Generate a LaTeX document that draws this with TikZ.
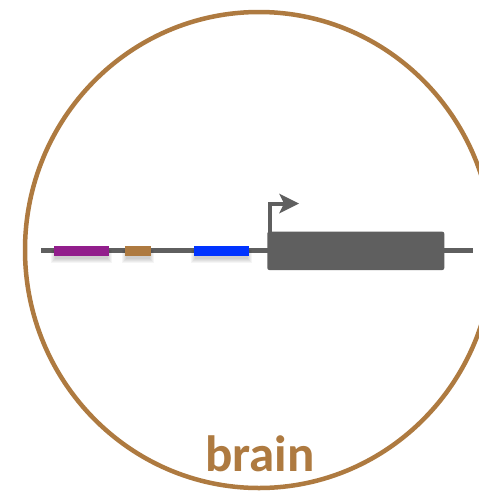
\documentclass[tikz,border=0pt]{standalone}
\usepackage{fontspec}
\setmainfont{Carlito}
\definecolor{brn}{RGB}{174,122,64}
\definecolor{gry}{RGB}{95,95,95}
\definecolor{prp}{RGB}{146,30,140}
\definecolor{blu}{RGB}{0,51,255}
\tikzset{
  ring/.style={draw=brn, line width=4.5},
  dna/.style={draw=gry, line width=5},
  softshadow/.style={fill=black, opacity=0.04},
  label/.style={text=brn, font=\bfseries\fontsize{51}{60}\selectfont, anchor=base, inner sep=0}
}
\newcommand{\shadowbox}[4]{%
  \foreach \e in {0,1,2,3,4}{%
    \fill[softshadow] (#1+1-\e,#2+4) rectangle (#3-1+\e,#4+3+\e);
  }%
}
\begin{document}
\begin{tikzpicture}[x=1pt,y=-1pt]
\useasboundingbox (0,0) rectangle (479,493);
\fill[white] (0,0) rectangle (479,493);
\draw[ring] (259,250) ellipse [x radius=234, y radius=238];
\draw[dna] (41,250.5) -- (473,250.5);
\shadowbox{54}{245.7}{109}{256.3}
\shadowbox{125.3}{245.7}{150.7}{256.3}
\shadowbox{194.3}{245.7}{249.3}{256.3}
\fill[prp] (54,245.7) rectangle (109,256.3);
\fill[brn] (125.3,245.7) rectangle (150.7,256.3);
\fill[blu] (194.3,245.7) rectangle (249.3,256.3);
\fill[gry, rounded corners=2] (267.3,231.7) rectangle (444.3,270);
\draw[gry, line width=4.3] (270.2,232) -- (270.2,203.8) -- (285,203.8);
\fill[gry] (299,203.5) -- (279,193.5) -- (284,203.5) -- (279,213.5) -- cycle;
\node[label] (t) at (260,471.7) {brain};
\end{tikzpicture}
\end{document}
